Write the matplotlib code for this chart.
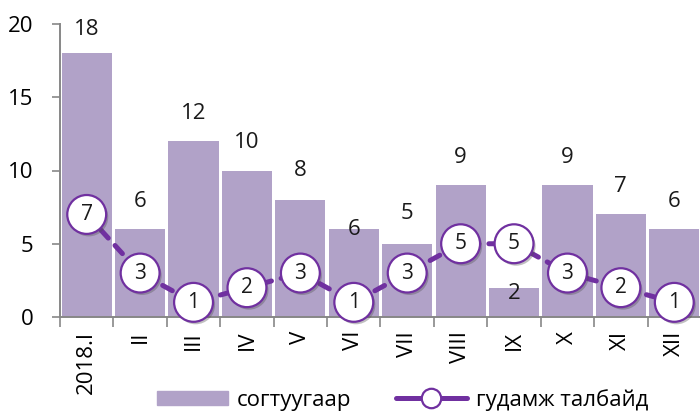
import matplotlib
matplotlib.use('Agg')
import matplotlib.pyplot as plt
import matplotlib.patheffects as pe
from matplotlib.lines import Line2D
from matplotlib.patches import Patch

plt.rcParams['font.family'] = ['Open Sans', 'DejaVu Sans']

months = ['2018.I', 'II', 'III', 'IV', 'V', 'VI', 'VII', 'VIII', 'IX', 'X', 'XI', 'XII']
drunk = [18, 6, 12, 10, 8, 6, 5, 9, 2, 9, 7, 6]        # согтуугаар
street = [7, 3, 1, 2, 3, 1, 3, 5, 5, 3, 2, 1]         # гудамж талбайд

bar_name = 'согтуугаар'
line_name = 'гудамж талбайд'

bar_col = '#b1a2c8'
line_col = '#7030a0'
axis_col = '#878787'

# label lift above the bar top (points), a few were moved off the markers
lift = [17, 20, 20, 20, 21, 0, 22, 20, -4, 20, 20, 20]

fig = plt.figure(figsize=(7, 4.12), dpi=100)
ax = fig.add_axes([60 / 700, 1 - 317 / 412, 641 / 700, 293 / 412])

x = list(range(len(months)))
bars = ax.bar(x, drunk, width=0.94, color=bar_col, zorder=1)

for xi, v, dy in zip(x, drunk, lift):
    ax.annotate(str(v), (xi, v), xytext=(0, dy), textcoords='offset points',
                ha='center', va='center', fontsize=16, color='#1a1a1a', zorder=2)

ax.plot(x, street, color=line_col, lw=3.6, dashes=(2.2, 2.0),
        dash_capstyle='round', solid_capstyle='round', zorder=3, clip_on=False)
ax.plot(x, street, ls='none', marker='o', ms=28, mfc='white', mec=line_col,
        mew=1.6, zorder=4, clip_on=False,
        path_effects=[pe.SimplePatchShadow(offset=(1.5, -1.8), alpha=0.35),
                      pe.Normal()])
for xi, v in zip(x, street):
    ax.text(xi, v, str(v), ha='center', va='center', fontsize=15,
            color='#1a1a1a', zorder=5, clip_on=False)

ax.set_xlim(-0.5, len(months) - 0.5)
ax.set_ylim(0, 20)
ax.set_yticks([0, 5, 10, 15, 20])
ax.set_xticks(x)
ax.set_xticklabels(months, rotation=90, fontsize=16)
ax.set_xticks([i - 0.5 for i in range(len(months) + 1)], minor=True)
ax.tick_params(axis='x', which='major', length=0, pad=10)
ax.tick_params(axis='x', which='minor', length=7, width=1.2, color=axis_col)
ax.tick_params(axis='y', length=6, width=1.2, color=axis_col, labelsize=16, pad=13)

for s in ['top', 'right']:
    ax.spines[s].set_visible(False)
for s in ['left', 'bottom']:
    ax.spines[s].set_color(axis_col)
    ax.spines[s].set_linewidth(1.4)

handles = [Patch(color=bar_col),
           Line2D([], [], color=line_col, lw=3.6, solid_capstyle='round',
                  marker='o', ms=14, mfc='white', mec=line_col, mew=1.6)]
fig.legend(handles, [bar_name, line_name], loc='center',
           bbox_to_anchor=(0.575, 0.03), ncol=2, frameon=False, fontsize=16,
           handlelength=3.2, handleheight=0.6, columnspacing=2.0,
           handletextpad=0.4)

fig.savefig('out.png', dpi=100)
